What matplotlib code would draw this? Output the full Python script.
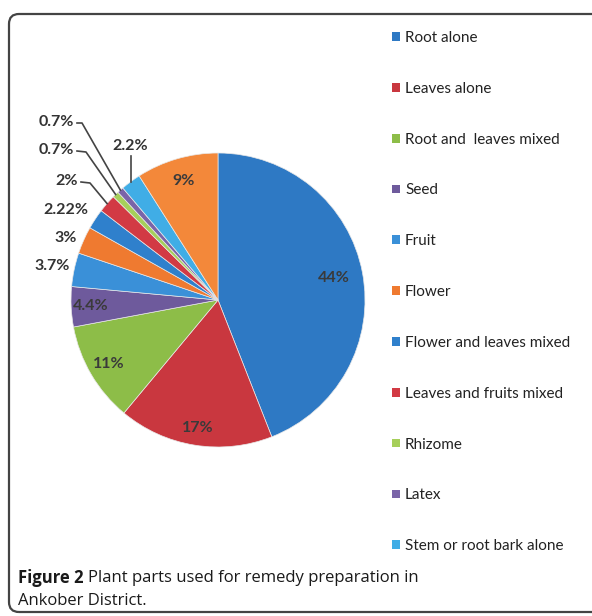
import numpy as np
import matplotlib
matplotlib.use("Agg")
import matplotlib.pyplot as plt
from matplotlib.patches import Patch, FancyBboxPatch

# ---- data ----
categories = ["Root alone", "Leaves alone", "Root and  leaves mixed", "Seed", "Fruit",
              "Flower", "Flower and leaves mixed", "Leaves and fruits mixed", "Rhizome",
              "Latex", "Stem or root bark alone", "Other"]
values = [44, 17, 11, 4.4, 3.7, 3, 2.22, 2, 0.7, 0.7, 2.2, 9]
pct_labels = ["44%", "17%", "11%", "4.4%", "3.7%", "3%", "2.22%", "2%", "0.7%", "0.7%", "2.2%", "9%"]
legend_count = 11

colors = ["#2e79c4", "#c9373f", "#8dbd48", "#6e5a9c", "#3a90d8", "#ef7a30",
          "#2f80cc", "#d23a44", "#a6cf5a", "#7a64a8", "#40ade6", "#f3883a"]

W, H = 592, 616
fig = plt.figure(figsize=(W / 100, H / 100), dpi=100)
ax = fig.add_axes([0, 0, 1, 1])

def Y(y):
    return H - y

cx, cy, R = 218, Y(300), 147
wedges, _ = ax.pie(values, colors=colors, startangle=90, counterclock=False,
                   center=(cx, cy), radius=R, frame=True,
                   wedgeprops=dict(edgecolor="#e8e8e8", linewidth=0.5))
ax.set_xlim(0, W)
ax.set_ylim(0, H)
ax.set_aspect("equal")
ax.axis("off")

# border box (right side runs off the page)
box = FancyBboxPatch((9, Y(612)), 800, 598, boxstyle="round,pad=0,rounding_size=10",
                     fill=False, edgecolor="#444444", linewidth=1.6, clip_on=False)
ax.add_patch(box)

pfont = dict(family="Lato", fontweight="bold", fontsize=11.5)

def mid_angle(w):
    return np.deg2rad((w.theta1 + w.theta2) / 2)

# inside labels
inside = {0: 0.80, 1: 0.88, 2: 0.86, 3: 0.87, 11: 0.84}
for i, f in inside.items():
    a = mid_angle(wedges[i])
    ax.text(cx + f * R * np.cos(a), cy + f * R * np.sin(a), pct_labels[i],
            ha="center", va="center", color="#3a3a3a", **pfont)

# outside labels: (text right x, text y, leader style)
outside = {
    4: (70, 266, None),
    5: (77, 238, None),
    6: (88, 210, None),
    7: (78, 181, "elbow"),
    8: (74, 150, "elbow"),
    9: (74, 122, "straight"),
    10: (148, 146, "vert"),
}
for i, (tx, ty, style) in outside.items():
    ax.text(tx, Y(ty), pct_labels[i], ha="right", va="center", color="#333333", **pfont)
    a = mid_angle(wedges[i])
    ex, ey = cx + R * np.cos(a), cy + R * np.sin(a)
    if style == "elbow":
        x0 = tx + 3
        ax.plot([x0, x0 + 9, ex], [Y(ty + 1), Y(ty + 2), ey], color="#444444", lw=1.2)
    elif style == "straight":
        x0 = tx + 3
        ax.plot([x0, x0 + 5, ex], [Y(ty + 1), Y(ty + 1), ey], color="#444444", lw=1.2)
    elif style == "vert":
        ax.plot([ex, ex], [Y(ty + 10), ey], color="#444444", lw=1.2)

# legend
handles = [Patch(facecolor=colors[i], edgecolor="none") for i in range(legend_count)]
leg = ax.legend(handles, categories[:legend_count], loc="upper left",
                bbox_to_anchor=(392, Y(31)), bbox_transform=ax.transData,
                frameon=False, prop=dict(family="Lato", size=11),
                handlelength=0.5, handleheight=0.5, handletextpad=0.35,
                labelspacing=2.41, borderpad=0, borderaxespad=0)
for t in leg.get_texts():
    t.set_color("#222222")

# caption
cap1 = ax.text(18, Y(578), "Figure 2", fontsize=12, fontweight="bold",
               family="Open Sans", color="#1a1a1a", va="center", ha="left")
fig.canvas.draw()
bb = cap1.get_window_extent(fig.canvas.get_renderer())
ax.text(bb.x1 + 5, Y(578), "Plant parts used for remedy preparation in", fontsize=12,
        family="Open Sans", color="#1a1a1a", va="center", ha="left")
ax.text(18, Y(601), "Ankober District.", fontsize=12,
        family="Open Sans", color="#1a1a1a", va="center", ha="left")

fig.savefig("out.png", dpi=100, facecolor="white")
